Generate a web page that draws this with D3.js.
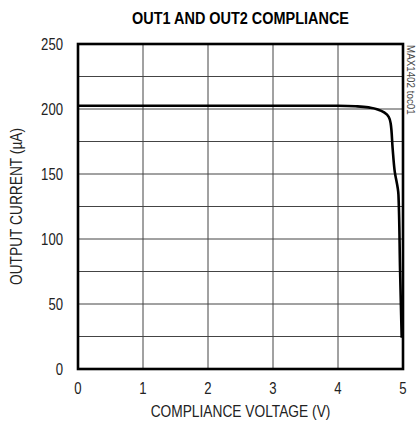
<!DOCTYPE html>
<html>
<head>
<meta charset="utf-8">
<style>
  body { margin: 0; background: #fff; }
  svg text { font-family: "Liberation Sans", Arial, sans-serif; fill: #222; }
</style>
</head>
<body>
<div id="chart"></div>
<script src="https://cdn.jsdelivr.net/npm/d3@7"></script>
<script>
// data
var voltage = [0, 1, 2, 3, 4.0, 4.3, 4.5, 4.62, 4.72, 4.78, 4.81, 4.84, 4.87, 4.93, 4.955, 4.98];
var current = [202.5, 202.5, 202.5, 202.5, 202.5, 202, 201, 199.5, 197, 194, 189, 170, 153, 134, 76, 24];
var xTicks = [0, 1, 2, 3, 4, 5];
var yTicks = [0, 50, 100, 150, 200, 250];
var yGrid = d3.range(0, 251, 25);

const width = 418, height = 433;
const margin = { left: 78, right: 15, top: 44, bottom: 64 };

const svg = d3.select("#chart").append("svg")
  .attr("width", width)
  .attr("height", height);

const x = d3.scaleLinear().domain([0, 5]).range([margin.left, width - margin.right]);
const y = d3.scaleLinear().domain([0, 250]).range([height - margin.bottom, margin.top]);

// narrow-looking text: regular font squeezed horizontally
function label(px, py, str, size, sx, anchor, rot) {
  var g = svg.append("g")
    .attr("transform", "translate(" + px + "," + py + ")" + (rot ? " rotate(" + rot + ")" : "") + " scale(" + sx + ",1)");
  return g.append("text")
    .attr("text-anchor", anchor)
    .style("font-size", size + "px")
    .text(str);
}

// grid
svg.append("g").selectAll("line")
  .data(xTicks.slice(1, -1)).enter().append("line")
  .attr("x1", d => x(d)).attr("x2", d => x(d))
  .attr("y1", y(0)).attr("y2", y(250))
  .style("stroke", "#444").style("stroke-width", 1);

svg.append("g").selectAll("line")
  .data(yGrid.slice(1, -1)).enter().append("line")
  .attr("x1", x(0)).attr("x2", x(5))
  .attr("y1", d => y(d)).attr("y2", d => y(d))
  .style("stroke", "#444").style("stroke-width", 1);

// curve
var pts = voltage.map((v, i) => [v, current[i]]);
svg.append("path")
  .datum(pts)
  .attr("d", d3.line().x(d => x(d[0])).y(d => y(d[1])).curve(d3.curveMonotoneY))
  .style("fill", "none").style("stroke", "#000").style("stroke-width", 2.6);

// frame
svg.append("rect")
  .attr("x", x(0)).attr("y", y(250))
  .attr("width", x(5) - x(0)).attr("height", y(0) - y(250))
  .style("fill", "none").style("stroke", "#000").style("stroke-width", 2.6);

// tick labels
xTicks.forEach(d => label(x(d), y(0) + 25, d, 16, 0.82, "middle"));
yTicks.forEach(d => label(x(0) - 15, y(d) + 6, d, 16, 0.82, "end"));

// titles
label((x(0) + x(5)) / 2, 24, "OUT1 AND OUT2 COMPLIANCE", 17, 0.85, "middle")
  .style("font-weight", "bold").style("fill", "#000");

label((x(0) + x(5)) / 2, 417, "COMPLIANCE VOLTAGE (V)", 16, 0.86, "middle");

label(22, (y(0) + y(250)) / 2, "OUTPUT CURRENT (\u00b5A)", 16, 0.86, "middle", -90);

// side label
label(407, y(250) + 1, "MAX1402 toc01", 10, 0.98, "start", 90).style("fill", "#444");
</script>
</body>
</html>
